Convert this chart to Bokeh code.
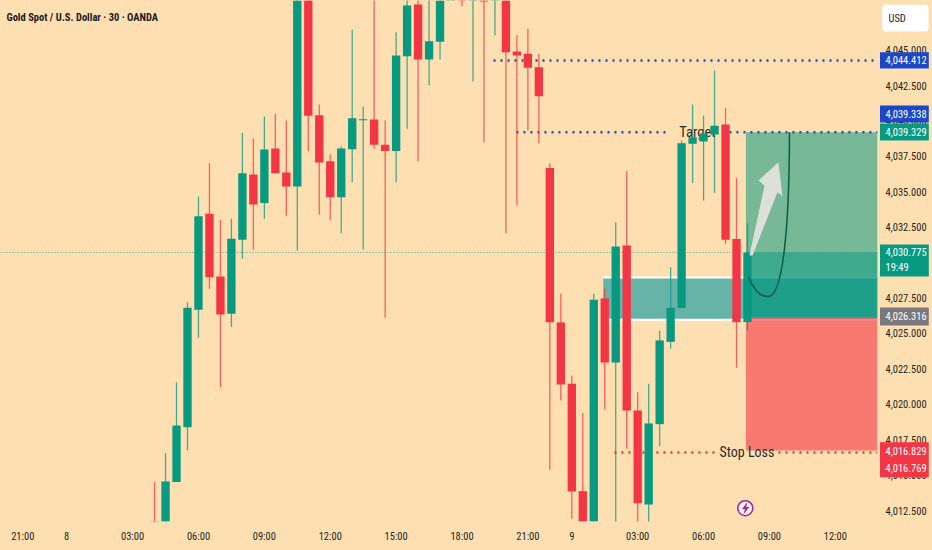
from bokeh.plotting import figure
from bokeh.models import ColumnDataSource, FixedTicker, NumeralTickFormatter, Label
from bokeh.core.properties import value
from bokeh.embed import file_html
from bokeh.resources import INLINE

# Candles (bars whose ends are above/below the view are estimates)
opens = [4011.45,4011.4,4014.51,4018.39,4026.67,4033.45,4029.02,4026.39,4031.61,4036.22,4034.20,4038.06,4036.36,4035.37,4050.5,4040.41,4037.16,4034.62,4038.01,4040.05,4040.10,4038.32,4037.87,4044.57,4048.22,4044.34,4045.59,4049.5,4051.0,4049.0,4050.5,4049.0,4050.0,4044.90,4044.74,4043.79,4036.67,4025.78,4021.45,4013.87,4011.2,4027.47,4022.95,4031.21,4019.57,4012.93,4018.60,4024.41,4026.79,4038.39,4038.55,4039.04,4039.75,4031.66,4025.80]
closes = [4010.75,4014.56,4018.51,4026.81,4033.28,4028.97,4026.34,4031.68,4036.31,4034.10,4037.99,4036.31,4035.37,4050.5,4040.36,4037.07,4034.62,4038.06,4040.19,4040.12,4038.32,4037.87,4044.62,4048.15,4044.34,4045.63,4049.5,4050.0,4049.0,4051.0,4048.43,4050.0,4044.85,4044.62,4043.75,4041.75,4025.80,4021.40,4013.85,4011.2,4027.38,4022.95,4031.14,4019.57,4013.02,4018.65,4024.51,4026.81,4038.43,4038.85,4039.11,4039.66,4031.61,4025.80,4030.70]
highs = [4014.51,4016.55,4021.56,4027.21,4034.67,4037.02,4033.02,4033.09,4039.16,4038.78,4040.31,4040.50,4040.03,4051.0,4051.5,4041.16,4037.63,4038.20,4046.43,4041.02,4049.0,4040.03,4046.26,4049.0,4049.0,4048.6,4050.0,4051.0,4052.0,4051.5,4051.0,4050.5,4050.5,4046.05,4046.50,4044.74,4037.02,4027.80,4022.04,4019.38,4027.80,4028.18,4032.85,4036.45,4020.86,4021.45,4025.21,4029.68,4038.62,4041.16,4040.38,4043.56,4040.93,4035.99,4032.74]
lows = [4010.5,4011.2,4014.51,4016.74,4024.70,4028.15,4021.21,4025.45,4030.27,4030.91,4033.09,4036.31,4033.31,4030.86,4037.87,4033.38,4032.97,4032.08,4035.68,4030.91,4038.03,4026.11,4035.68,4039.45,4037.16,4042.50,4044.34,4049.0,4048.10,4042.78,4038.50,4046.03,4032.08,4034.05,4039.33,4038.43,4015.38,4020.27,4011.92,4011.0,4011.0,4019.64,4011.5,4016.86,4011.7,4011.7,4017.05,4023.92,4026.79,4035.61,4034.39,4034.93,4031.33,4022.58,4025.21]

tick_bars = [-12,-8,-2,4,10,16,22,28,34,38,44,50,56,62]
tick_names = ["21:00","8","03:00","06:00","09:00","12:00","15:00","18:00","21:00","9","03:00","06:00","09:00","12:00"]
price_ticks = [4012.5,4015,4017.5,4020,4022.5,4025,4027.5,4030,4032.5,4035,4037.5,4040,4042.5,4045]

# Price tags on the scale
tag_tops =    [4044.85, 4041.09, 4039.82, 4031.28, 4026.84, 4017.33]
tag_bottoms = [4043.70, 4039.89, 4038.62, 4029.02, 4025.56, 4014.86]
tag_colors =  ["#1C47C8", "#1C47C8", "#089981", "#089981", "#78787E", "#F23645"]
tag_texts =   ["4,044.412", "4,039.338", "4,039.329", "4,030.775", "19:49", "4,026.316", "4,016.829", "4,016.769"]
tag_levels =  [4044.27, 4040.49, 4039.21, 4030.74, 4029.68, 4026.2, 4016.74, 4015.50]

BG = "#FEDFB1"; GREEN = "#089981"; RED = "#F23645"; BLUE = "#1C47C8"
NARROW = "Roboto Condensed"

p = figure(width=932, height=550, output_backend="svg", toolbar_location=None,
           x_range=(-14.03, 65.84), y_range=(4011.73, 4048.5), y_axis_location="right",
           min_border_left=0, min_border_top=0, min_border_right=55, min_border_bottom=29,
           background_fill_color=BG, background_fill_alpha=0.0, border_fill_color=BG, outline_line_color=None)
p.styles = {"position": "absolute", "left": "0px", "top": "0px", "background-color": BG}
p.grid.visible = False

for ax in (p.xaxis[0], p.yaxis[0]):
    ax.axis_line_color = None
    ax.major_tick_line_color = None
    ax.minor_tick_line_color = None
    ax.major_tick_out = 0
    ax.major_tick_in = 0
    ax.minor_tick_out = 0
    ax.minor_tick_in = 0
    ax.major_label_text_font = NARROW
    ax.major_label_text_font_size = "10.5px"
    ax.major_label_text_color = "#1f1f24"
p.xaxis[0].ticker = FixedTicker(ticks=tick_bars)
p.xaxis[0].major_label_overrides = {b: n for b, n in zip(tick_bars, tick_names)}
p.xaxis[0].major_label_standoff = 8
p.yaxis[0].ticker = FixedTicker(ticks=price_ticks)
p.yaxis[0].formatter = NumeralTickFormatter(format="0,0.000")
p.yaxis[0].major_label_standoff = 8

# Zone, then position tool on top of it
p.quad(left=[40.86], right=[65.84], top=[4028.95], bottom=[4025.97], fill_color="#0096A0", fill_alpha=0.6, line_color=None)
p.segment(x0=[40.86, 40.86], x1=[65.84, 65.84], y0=[4028.95, 4025.97], y1=[4028.95, 4025.97], line_color="#FFFFFF", line_width=2)
p.quad(left=[53.86], right=[65.84], top=[4039.21], bottom=[4026.15], fill_color=GREEN, fill_alpha=0.55, line_color=None)
p.quad(left=[53.86], right=[65.84], top=[4030.72], bottom=[4026.15], fill_color=GREEN, fill_alpha=0.5, line_color=None)
p.quad(left=[53.86], right=[65.84], top=[4026.15], bottom=[4016.74], fill_color=RED, fill_alpha=0.6, line_color=None)

# Price lines
p.segment(x0=[-14.03], x1=[65.84], y0=[4030.72], y1=[4030.72], line_color=GREEN, line_width=1, line_dash="1 2", line_alpha=0.8)
p.segment(x0=[30.87, 32.96, 51.08], x1=[65.84, 46.98, 65.84], y0=[4044.27, 4039.21, 4039.21], y1=[4044.27, 4039.21, 4039.21],
          line_color=BLUE, line_width=2.5, line_dash="2 5")
p.segment(x0=[41.88, 56.82], x1=[51.08, 65.84], y0=[4016.60, 4016.60], y1=[4016.60, 4016.60],
          line_color=RED, line_width=2.5, line_dash="2 5")

p.text(x=[49.44], y=[4039.18], text=["Target"], text_font=value(NARROW), text_font_size="14.5px",
       text_color="#2b2b2b", text_align="center", text_baseline="middle")
p.text(x=[53.95], y=[4016.67], text=["Stop Loss"], text_font=value(NARROW), text_font_size="14px",
       text_color="#2b2b2b", text_align="center", text_baseline="middle")

# Candles
idx = list(range(len(opens)))
up = [i for i in idx if closes[i] >= opens[i]]
dn = [i for i in idx if closes[i] < opens[i]]
for sel, col in ((up, GREEN), (dn, RED)):
    src = ColumnDataSource(dict(
        x=sel,
        top=[max(opens[i], closes[i]) for i in sel],
        bottom=[min(opens[i], closes[i]) for i in sel],
        high=[highs[i] for i in sel],
        low=[lows[i] for i in sel]))
    p.segment(x0="x", x1="x", y0="low", y1="high", source=src, line_color=col, line_width=1.3, line_alpha=0.75)
    p.vbar(x="x", width=0.76, top="top", bottom="bottom", source=src, fill_color=col, line_color=None)

# Arrow and curve
p.patch(x=[54.18, 55.55, 55.0, 56.82, 57.18, 56.73, 54.46], y=[4030.50, 4035.44, 4035.80, 4037.09, 4034.67, 4034.97, 4030.50],
        fill_color="#E2E2DC", fill_alpha=0.95, line_color=None)
p.bezier(x0=[54.09, 55.91], y0=[4028.95, 4027.61], x1=[55.91, 57.82], y1=[4027.61, 4039.21],
         cx0=[54.82, 57.18], cy0=[4027.75, 4027.61], cx1=[55.36, 57.82], cy1=[4027.61, 4032.27],
         line_color="#0B5A48", line_width=1.5)

# Lightning mark
p.scatter(x=[53.8], y=[4012.67], size=15, marker="circle", fill_color="#FFF3E0", line_color="#9C27B0", line_width=1.6)
p.patch(x=[53.99, 53.50, 53.77, 53.63, 54.17, 53.89], y=[4013.11, 4012.62, 4012.62, 4012.23, 4012.76, 4012.76],
        fill_color="#9C27B0", line_color=None)

# Title
p.add_layout(Label(x=6, y=504, x_units="screen", y_units="screen", text="Gold Spot / U.S. Dollar \u00b7 30 \u00b7 OANDA",
                   text_font=NARROW, text_font_size="10.5px", text_font_style="bold", text_color="#1a1a1f", text_baseline="middle"))

# Transparent strip over the price scale that carries the tags
q = figure(width=55, height=550, output_backend="svg", toolbar_location=None,
           x_range=(0, 55), y_range=p.y_range, x_axis_location=None, y_axis_location=None,
           min_border_left=0, min_border_top=0, min_border_right=0, min_border_bottom=29,
           background_fill_alpha=0.0, border_fill_alpha=0.0, outline_line_color=None)
q.styles = {"position": "absolute", "left": "877px", "top": "0px"}
q.grid.visible = False
n = len(tag_tops)
q.quad(left=[2.5] * n, right=[51.3] * n, top=tag_tops, bottom=tag_bottoms, fill_color=tag_colors, line_color=None)
q.text(x=[8] * len(tag_texts), y=tag_levels, text=tag_texts, text_font=value(NARROW), text_font_size="10.5px",
       text_color="#FFFFFF", text_baseline="middle")
q.quad(left=[4.7], right=[51], top=[4048.2], bottom=[4046.31], fill_color="#FFFFFF", line_color=None, border_radius=3)
q.text(x=[11], y=[4047.22], text=["USD"], text_font=value(NARROW), text_font_size="10.5px",
       text_color="#1a1a1f", text_baseline="middle")

open("out.html", "w").write(file_html([p, q], INLINE))
